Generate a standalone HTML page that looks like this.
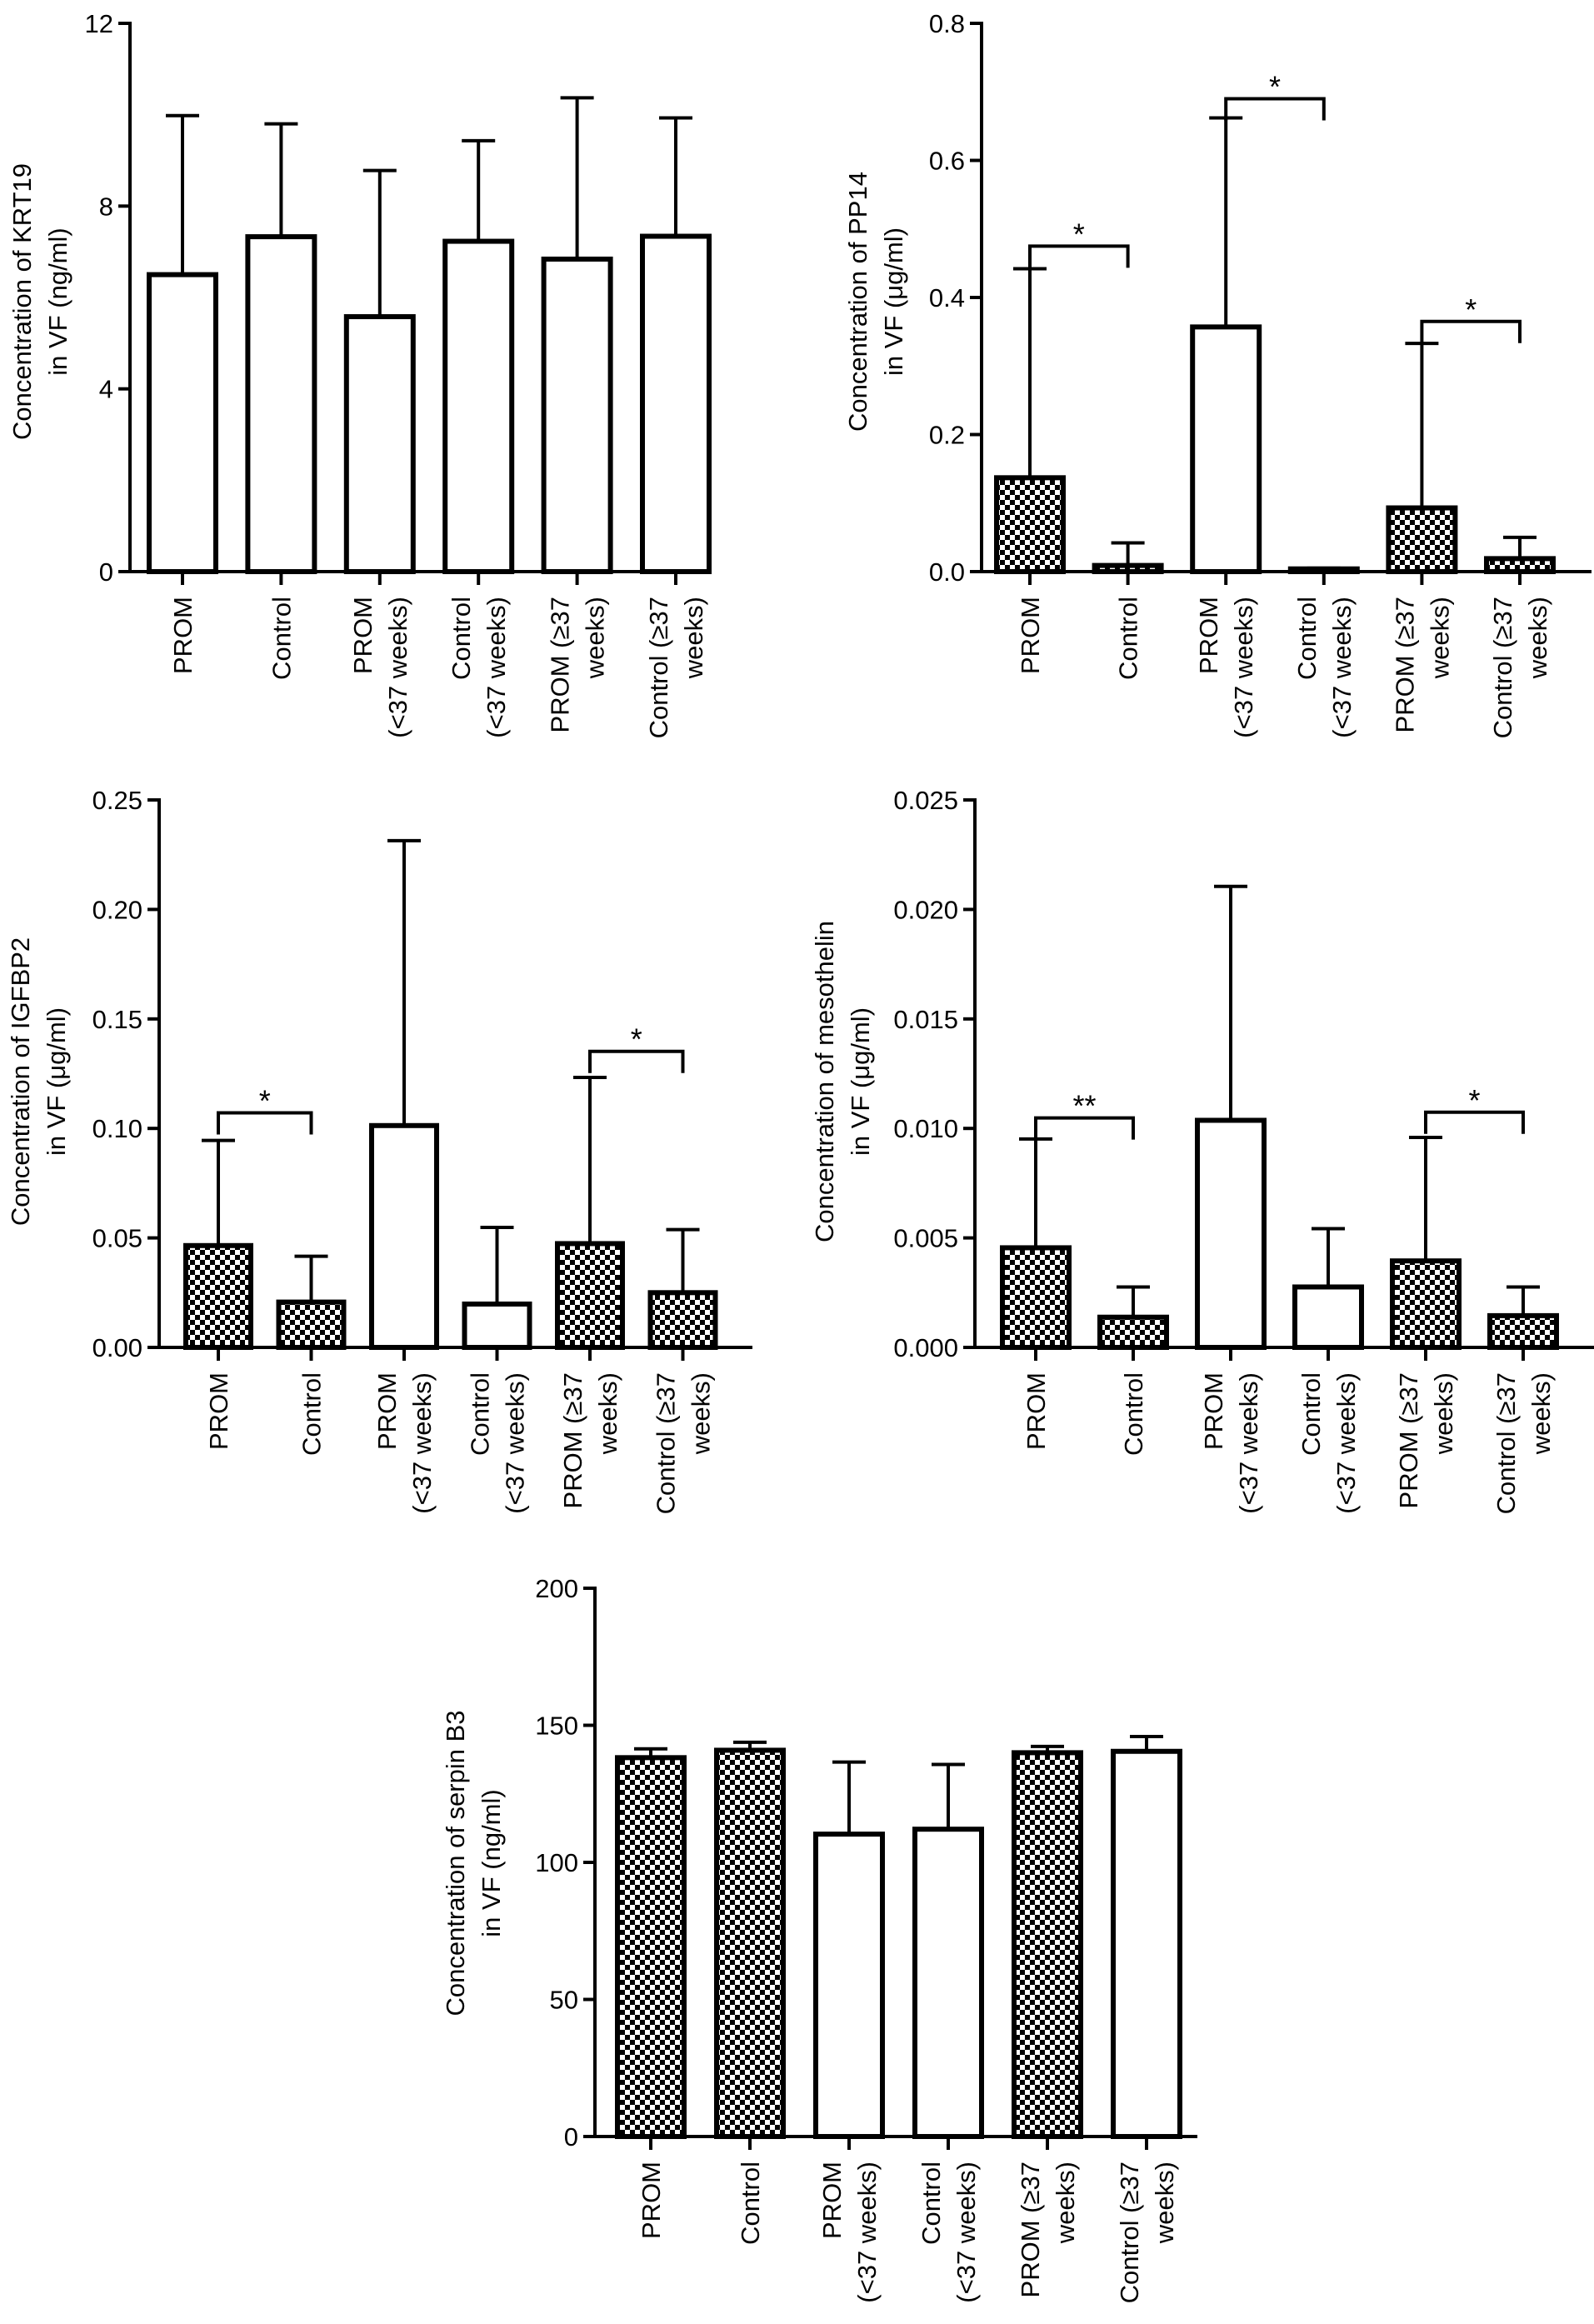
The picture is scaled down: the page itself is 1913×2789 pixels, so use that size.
<!DOCTYPE html>
<html><head><meta charset="utf-8">
<style>
html,body{margin:0;padding:0;background:#fff;}
svg{display:block;}
text{font-family:"Liberation Sans",Arial,sans-serif;fill:#000;}
</style></head>
<body>
<svg id="fig" width="1913" height="2789" viewBox="0 0 1913 2789" xmlns="http://www.w3.org/2000/svg">
<defs>
<pattern id="checker" width="12" height="12" patternUnits="userSpaceOnUse">
<rect width="12" height="12" fill="#fff"/>
<rect x="0" y="0" width="6" height="6" fill="#000"/>
<rect x="6" y="6" width="6" height="6" fill="#000"/>
</pattern>
</defs>
</svg>
<script>
// shared categories
const categories = [["PROM"],["Control"],["PROM","(<37 weeks)"],["Control","(<37 weeks)"],["PROM (\u226537","weeks)"],["Control (\u226537","weeks)"]];

// Chart A: KRT19
const krtMeans = [6.5, 7.33, 5.58, 7.23, 6.84, 7.34];
const krtErr = [9.98, 9.8, 8.78, 9.43, 10.37, 9.93];
const krtPattern = [0,0,0,0,0,0];
const krtTicks = [0,4,8,12];
const krtTickLabels = ["0","4","8","12"];
const krtSig = [];

// Chart B: PP14
const ppMeans = [0.137, 0.009, 0.357, 0.004, 0.093, 0.019];
const ppErr = [0.442, 0.042, 0.662, 0.005, 0.333, 0.05];
const ppPattern = [1,1,0,0,1,1];
const ppTicks = [0,0.2,0.4,0.6,0.8];
const ppTickLabels = ["0.0","0.2","0.4","0.6","0.8"];
const ppSig = [[0,1,0.475,"*"],[2,3,0.69,"*"],[4,5,0.365,"*"]];

// Chart C: IGFBP2
const igMeans = [0.0465, 0.0207, 0.1013, 0.0198, 0.0474, 0.025];
const igErr = [0.0945, 0.0416, 0.2314, 0.0548, 0.1233, 0.0538];
const igPattern = [1,1,0,0,1,1];
const igTicks = [0,0.05,0.10,0.15,0.20,0.25];
const igTickLabels = ["0.00","0.05","0.10","0.15","0.20","0.25"];
const igSig = [[0,1,0.1071,"*"],[4,5,0.1352,"*"]];

// Chart D: mesothelin
const meMeans = [0.00455, 0.00138, 0.01037, 0.00276, 0.00395, 0.00145];
const meErr = [0.00952, 0.00276, 0.02105, 0.00542, 0.00959, 0.00276];
const mePattern = [1,1,0,0,1,1];
const meTicks = [0,0.005,0.010,0.015,0.020,0.025];
const meTickLabels = ["0.000","0.005","0.010","0.015","0.020","0.025"];
const meSig = [[0,1,0.01048,"**"],[4,5,0.01074,"*"]];

// Chart E: serpin B3
const seMeans = [138.2, 140.9, 110.3, 112.1, 140.0, 140.5];
const seErr = [141.4, 143.8, 136.6, 135.7, 142.3, 145.9];
const sePattern = [1,1,0,0,1,0];
const seTicks = [0,50,100,150,200];
const seTickLabels = ["0","50","100","150","200"];
const seSig = [];

const NS = "http://www.w3.org/2000/svg";
const svg = document.getElementById("fig");
function mk(tag, attrs, parent){
  const e = document.createElementNS(NS, tag);
  for (const k in attrs) e.setAttribute(k, attrs[k]);
  (parent||svg).appendChild(e);
  return e;
}

function drawChart(cfg, means, errs, pattern, ticks, tickLabels, sig){
  const g = mk("g", {});
  
  
  const yScale = v => cfg.y0 - (v / cfg.ymax) * (cfg.y0 - cfg.ytop);
  const xScale = i => cfg.c0 + i * cfg.step;
  const bw = cfg.bw;
  means.forEach((m, i) => {
    const cx = xScale(i), yt = yScale(m);
    const r = mk("rect", {x: cx - bw/2, y: yt, width: bw, height: Math.max(cfg.y0 - yt, 0.5),
      fill: pattern[i] ? "url(#checker)" : "#fff", stroke: "#000", "stroke-width": 6}, g);
    
    
    const ey = yScale(errs[i]);
    const el = mk("line", {x1: cx, x2: cx, y1: yt, y2: ey, stroke: "#000", "stroke-width": 4}, g);
    
    
    const cap = mk("line", {x1: cx - 20, x2: cx + 20, y1: ey, y2: ey, stroke: "#000", "stroke-width": 4}, g);
    
    
  });
  const ya = mk("line", {x1: cfg.ax, x2: cfg.ax, y1: cfg.ytop - 2, y2: cfg.y0 + 2, stroke: "#000", "stroke-width": 4}, g);
  
  
  const xa = mk("line", {x1: cfg.ax - 14, x2: cfg.xend, y1: cfg.y0, y2: cfg.y0, stroke: "#000", "stroke-width": 4}, g);
  
  
  ticks.forEach((t, k) => {
    const y = yScale(t);
    const tl = mk("line", {x1: cfg.ax - 14, x2: cfg.ax, y1: y, y2: y, stroke: "#000", "stroke-width": 4}, g);
    
    
    const tx = mk("text", {x: cfg.ax - 20, y: y + 11, "text-anchor": "end", "font-size": 31}, g);
    tx.textContent = tickLabels[k];
    
    
  });
  categories.forEach((lines, i) => {
    const cx = xScale(i);
    const tk = mk("line", {x1: cx, x2: cx, y1: cfg.y0, y2: cfg.y0 + 16, stroke: "#000", "stroke-width": 4}, g);
    
    
    const ty = cfg.y0 + 30;
    lines.forEach((ln, j) => {
      const bx = lines.length === 1 ? cx + 11 : cx - 10 + j * 42;
      const t = mk("text", {x: 0, y: 0, "text-anchor": "end", "font-size": 31,
        transform: `translate(${bx},${ty}) rotate(-90)`}, g);
      t.textContent = ln;
      
      
    });
  });
  cfg.title.forEach((ln, j) => {
    const t = mk("text", {x: 0, y: 0, "text-anchor": "middle", "font-size": 31,
      transform: `translate(${cfg.tx + j * 43},${cfg.ty}) rotate(-90)`}, g);
    t.textContent = ln;
    
    
  });
  sig.forEach(s => {
    const xa1 = xScale(s[0]), xb1 = xScale(s[1]);
    const by = yScale(s[2]);
    const p = mk("path", {d: `M${xa1},${by + 26} V${by} H${xb1} V${by + 26}`, fill: "none", stroke: "#000", "stroke-width": 4}, g);
    
    
    const st = mk("text", {x: (xa1 + xb1) / 2, y: by - 2, "text-anchor": "middle", "font-size": 36}, g);
    st.textContent = s[3];
    
    
  });
}

drawChart({name:"krt19-chart", ax:156, y0:686, ytop:28, ymax:12, c0:219, step:118.4, bw:80, xend:832, tx:37, ty:362, title:["Concentration of KRT19","in VF (ng/ml)"]},
  krtMeans, krtErr, krtPattern, krtTicks, krtTickLabels, krtSig);
drawChart({name:"pp14-chart", ax:1178, y0:686, ytop:28, ymax:0.8, c0:1236, step:117.6, bw:80, xend:1910, tx:1040, ty:362, title:["Concentration of PP14","in VF (\u03bcg/ml)"]},
  ppMeans, ppErr, ppPattern, ppTicks, ppTickLabels, ppSig);
drawChart({name:"igfbp2-chart", ax:191, y0:1617, ytop:960, ymax:0.25, c0:262, step:111.5, bw:78, xend:903, tx:35, ty:1298, title:["Concentration of IGFBP2","in VF (\u03bcg/ml)"]},
  igMeans, igErr, igPattern, igTicks, igTickLabels, igSig);
drawChart({name:"mesothelin-chart", ax:1170, y0:1617, ytop:960, ymax:0.025, c0:1243, step:117, bw:80, xend:1913, tx:1000, ty:1298, title:["Concentration of mesothelin","in VF (\u03bcg/ml)"]},
  meMeans, meErr, mePattern, meTicks, meTickLabels, meSig);
drawChart({name:"serpinb3-chart", ax:714, y0:2564, ytop:1906, ymax:200, c0:781, step:119, bw:80, xend:1437, tx:557, ty:2236, title:["Concentration of serpin B3","in VF (ng/ml)"]},
  seMeans, seErr, sePattern, seTicks, seTickLabels, seSig);
</script>
</body></html>
